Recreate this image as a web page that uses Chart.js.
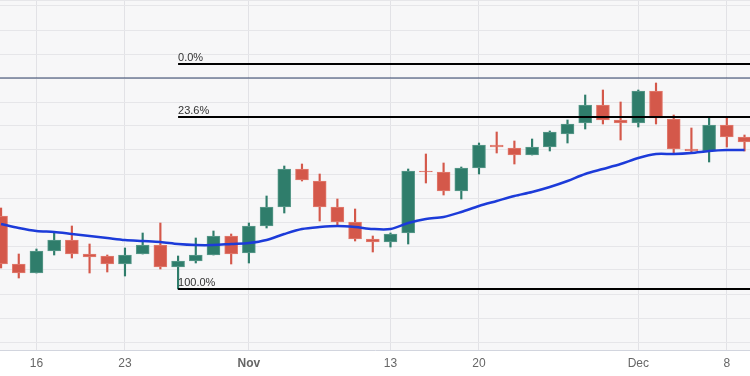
<!DOCTYPE html>
<html>
<head>
<meta charset="utf-8">
<script src="https://cdn.jsdelivr.net/npm/chart.js@4.4.0/dist/chart.umd.min.js"></script>
<style>
  html, body { margin: 0; padding: 0; background: #ffffff; }
  #wrap { width: 750px; height: 376px; }
</style>
</head>
<body>
<div id="wrap"><canvas id="chart" width="750" height="376"></canvas></div>
<script>
// trading days shown (weekdays only)
const dates = [
  '2023-10-12', '2023-10-13', '2023-10-16', '2023-10-17', '2023-10-18', '2023-10-19', '2023-10-20',
  '2023-10-23', '2023-10-24', '2023-10-25', '2023-10-26', '2023-10-27', '2023-10-30', '2023-10-31',
  '2023-11-01', '2023-11-02', '2023-11-03', '2023-11-06', '2023-11-07', '2023-11-08', '2023-11-09',
  '2023-11-10', '2023-11-13', '2023-11-14', '2023-11-15', '2023-11-16', '2023-11-17', '2023-11-20',
  '2023-11-21', '2023-11-22', '2023-11-23', '2023-11-24', '2023-11-27', '2023-11-28', '2023-11-29',
  '2023-11-30', '2023-12-01', '2023-12-04', '2023-12-05', '2023-12-06', '2023-12-07', '2023-12-08',
  '2023-12-11'
];

const opens = [
  1.2126, 1.2078, 1.2069, 1.2091, 1.2102, 1.2088, 1.2086, 1.2078, 1.2088, 1.2097, 1.2075, 1.2081,
  1.2087, 1.2106, 1.2089, 1.2116, 1.2135, 1.2173, 1.2161, 1.2135, 1.2120, 1.2103, 1.2100, 1.2109,
  1.2171, 1.2170, 1.2151, 1.2174, 1.2197, 1.2194, 1.2187, 1.2195, 1.2208, 1.2219, 1.2237, 1.2222,
  1.2219, 1.2251, 1.2223, 1.2193, 1.2191, 1.2217, 1.2205
];
const highs = [
  1.2134, 1.2088, 1.2093, 1.2109, 1.2116, 1.2098, 1.2087, 1.2094, 1.2109, 1.2119, 1.2086, 1.2104,
  1.2111, 1.2108, 1.2119, 1.2146, 1.2176, 1.2178, 1.2168, 1.2143, 1.2133, 1.2106, 1.2109, 1.2173,
  1.2188, 1.2179, 1.2175, 1.2199, 1.2210, 1.2201, 1.2203, 1.2211, 1.2222, 1.2247, 1.2252, 1.2240,
  1.2252, 1.2259, 1.2227, 1.2214, 1.2224, 1.2224, 1.2207
];
const lows = [
  1.2074, 1.2064, 1.2069, 1.2087, 1.2084, 1.2069, 1.2070, 1.2066, 1.2088, 1.2073, 1.2053, 1.2079,
  1.2087, 1.2078, 1.2079, 1.2114, 1.2129, 1.2161, 1.2121, 1.2117, 1.2101, 1.2090, 1.2095, 1.2098,
  1.2159, 1.2147, 1.2143, 1.2168, 1.2189, 1.2178, 1.2187, 1.2191, 1.2199, 1.2213, 1.2218, 1.2202,
  1.2215, 1.2218, 1.2189, 1.2190, 1.2180, 1.2195, 1.2191
];
const closes = [
  1.2078, 1.2069, 1.2091, 1.2102, 1.2088, 1.2085, 1.2078, 1.2087, 1.2097, 1.2075, 1.2081, 1.2087,
  1.2106, 1.2088, 1.2116, 1.2135, 1.2173, 1.2162, 1.2135, 1.2120, 1.2103, 1.2100, 1.2108, 1.2171,
  1.2170, 1.2151, 1.2174, 1.2197, 1.2195, 1.2187, 1.2195, 1.2210, 1.2218, 1.2237, 1.2222, 1.2219,
  1.2251, 1.2224, 1.2193, 1.2191, 1.2217, 1.2205, 1.2200
];
// moving average (blue line)
const maValues = [
  1.2118, 1.2114, 1.2111, 1.2110, 1.2108, 1.2106, 1.2104, 1.2102, 1.2101, 1.2100, 1.2098, 1.2097,
  1.2097, 1.2098, 1.2099, 1.2102, 1.2108, 1.2113, 1.2115, 1.2116, 1.2115, 1.2113, 1.2113, 1.2119,
  1.2123, 1.2125, 1.2130, 1.2136, 1.2141, 1.2146, 1.2150, 1.2155, 1.2161, 1.2168, 1.2173, 1.2178,
  1.2184, 1.2188, 1.2188, 1.2189, 1.2191, 1.2192, 1.2192
];

const xTickDates = ['2023-10-16', '2023-10-23', '2023-11-01', '2023-11-13', '2023-11-20', '2023-12-01', '2023-12-08'];
const xTickLabels = ['16', '23', 'Nov', '13', '20', 'Dec', '8'];

// fibonacci retracement
const fibStartDate = '2023-10-26';
const fibHigh = 1.2278;
const fibLow = 1.2053;
const fibRatios = [0, 0.236, 1];
const fibLabels = ['0.0%', '23.6%', '100.0%'];

const priceLine = 1.2264;
const gridStart = 1.2000;
const gridStep = 0.0024;

const GREEN = '#2f7d6b';
const RED = '#d4584a';

const xs = dates.map((d, i) => i);
const isUp = i => closes[i] >= opens[i];
const xMin = -0.06, xMax = 42.31;
const yMin = 1.1992, yMax = 1.2342;

const fibStart = dates.indexOf(fibStartDate);
const fibLevels = fibRatios.map(r => fibHigh - (fibHigh - fibLow) * r);

const bgPlugin = {
  id: 'bg',
  beforeDraw(chart) {
    const { ctx, chartArea: a } = chart;
    ctx.save();
    ctx.fillStyle = '#ffffff';
    ctx.fillRect(0, 0, chart.width, chart.height);
    ctx.fillStyle = '#f7f7f8';
    ctx.fillRect(a.left, a.top, a.right - a.left, a.bottom - a.top);
    ctx.restore();
  }
};

const fibLabelPlugin = {
  id: 'fibLabels',
  afterDatasetsDraw(chart) {
    const { ctx, scales } = chart;
    ctx.save();
    ctx.font = '11px "Liberation Sans", Arial, sans-serif';
    ctx.fillStyle = '#333333';
    ctx.textAlign = 'left';
    ctx.textBaseline = 'alphabetic';
    fibLevels.forEach((v, k) => {
      const px = scales.x.getPixelForValue(fibStart);
      const py = scales.y.getPixelForValue(v);
      ctx.fillText(fibLabels[k], px, py - 3);
    });
    ctx.restore();
  }
};

const datasets = [
  {
    type: 'line',
    data: xs.map(i => ({ x: i, y: maValues[i] })),
    borderColor: '#1c3bd9',
    borderWidth: 2.5,
    pointRadius: 0,
    tension: 0.3,
    order: -2
  },
  ...fibLevels.map(v => ({
    type: 'line',
    data: [{ x: fibStart, y: v }, { x: xMax + 1, y: v }],
    borderColor: '#000000',
    borderWidth: 2,
    pointRadius: 0,
    order: -3
  })),
  {
    type: 'line',
    data: [{ x: xMin - 1, y: priceLine }, { x: xMax + 1, y: priceLine }],
    borderColor: '#2c3e66',
    borderWidth: 1,
    pointRadius: 0,
    order: -1
  },
  {
    type: 'bar',
    data: xs.map(i => ({ x: i, y: [opens[i], closes[i]] })),
    backgroundColor: c => isUp(c.dataIndex) ? GREEN : RED,
    borderColor: c => isUp(c.dataIndex) ? '#5c9b8c' : '#e27c70',
    borderWidth: 1,
    borderSkipped: false,
    barThickness: 13,
    grouped: false,
    order: 0
  },
  {
    type: 'bar',
    data: xs.map(i => ({ x: i, y: [lows[i], highs[i]] })),
    backgroundColor: c => isUp(c.dataIndex) ? GREEN : RED,
    borderWidth: 0,
    barThickness: 1.5,
    grouped: false,
    order: 1
  }
];

new Chart(document.getElementById('chart'), {
  type: 'bar',
  data: { datasets },
  options: {
    responsive: false,
    animation: false,
    layout: { padding: 0 },
    plugins: {
      legend: { display: false },
      tooltip: { enabled: false }
    },
    scales: {
      x: {
        type: 'linear',
        min: xMin,
        max: xMax,
        offset: false,
        afterBuildTicks: s => {
          s.ticks = xTickDates.map(d => ({ value: dates.indexOf(d) }));
        },
        afterFit: s => { s.height = 26; },
        ticks: {
          autoSkip: false,
          maxRotation: 0,
          padding: 6,
          color: '#666666',
          font: c => ({
            family: '"Liberation Sans", Arial, sans-serif',
            size: 12,
            weight: c.tick && c.tick.label === 'Nov' ? 'bold' : 'normal'
          }),
          callback: (v, i) => xTickLabels[i]
        },
        grid: { color: '#e2e2e6', drawTicks: false, offset: false },
        border: { color: '#d2d5de', width: 1 }
      },
      y: {
        type: 'linear',
        min: yMin,
        max: yMax,
        afterBuildTicks: s => {
          const t = [];
          for (let k = 0; k <= 14; k++) t.push({ value: gridStart + gridStep * k });
          t.push({ value: yMax });
          s.ticks = t;
        },
        afterFit: s => { s.width = 0; },
        ticks: { display: false },
        grid: { color: '#e6e6e9', drawTicks: false },
        border: { display: false }
      }
    }
  },
  plugins: [bgPlugin, fibLabelPlugin]
});
</script>
</body>
</html>
